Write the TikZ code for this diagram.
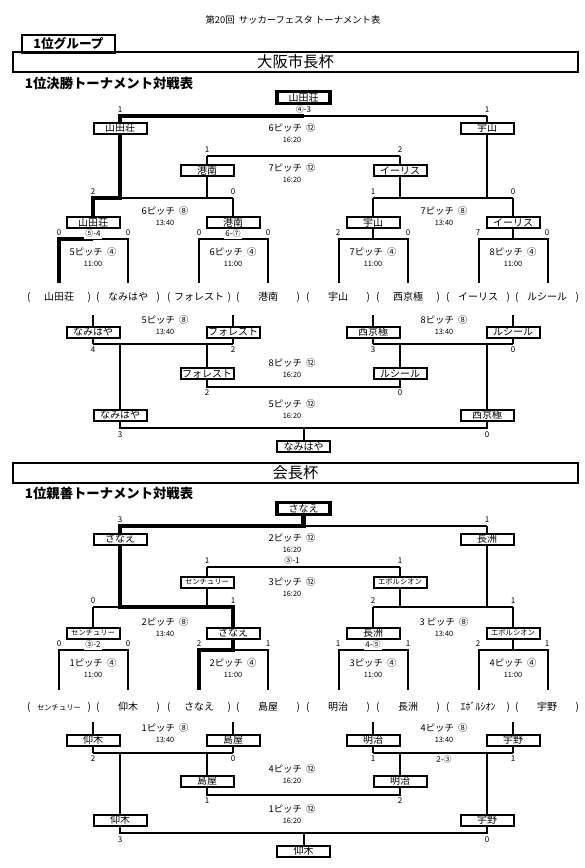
\documentclass[tikz,border=0pt]{standalone}
\usepackage{fontspec}
\setmainfont{Noto Sans CJK JP}
\usepackage{tikz}
\newcommand{\smtxt}[1]{{\fontsize{5.5}{6}\selectfont #1}}

\begin{document}
\begin{tikzpicture}[
    x=0.75pt, y=-0.75pt,
    every node/.style={inner sep=0pt, outer sep=0pt},
    team/.style={draw, fill=white, line width=1.5pt, minimum width=39.75pt, minimum height=8.25pt, font=\fontsize{7.5}{8}\selectfont},
    champ/.style={team, line width=2.4pt, minimum height=8.6pt},
    row/.style={font=\fontsize{7.5}{8}\selectfont},
    ln/.style={line width=1.5pt},
    win/.style={line width=3.2pt},
    sc/.style={font=\fontsize{6}{6}\selectfont},
    pk/.style={sc, fill=white, minimum height=7.5pt, inner xsep=1pt},
    pitch/.style={font=\fontsize{7}{7}\selectfont},
    tm/.style={font=\fontsize{5.5}{6}\selectfont},
    ttl/.style={font=\fontsize{7}{8}\selectfont},
    grp/.style={draw, line width=1.5pt, minimum width=69.75pt, minimum height=13.5pt, font=\bfseries\fontsize{9.5}{10}\selectfont},
    cup/.style={draw, line width=1.5pt, minimum width=423.75pt, minimum height=15pt, font=\fontsize{11.5}{12}\selectfont},
    head/.style={anchor=west, font=\bfseries\fontsize{10}{11}\selectfont},
  ]
  \useasboundingbox (0,0) rectangle (585,868);

  \node[ttl] (ttl) at (293,20) {第20回\ \ サッカーフェスタ\ トーナメント表};
  \node[grp] (grp) at (68.5,44) {1位グループ};

  % ---- 大阪市長杯 ----
  \node[cup] (cupA) at (295.5,62) {大阪市長杯};
  \node[head] (headA) at (25,83) {1位決勝トーナメント対戦表};

  \node[champ] (aW) at (303.5,97.5) {山田荘};
  \node[team] (aS1) at (120,128) {山田荘};
  \node[team] (aS2) at (487,128) {宇山};
  \node[team] (aT1) at (207,170.5) {港南};
  \node[team] (aT2) at (400,170.5) {イーリス};
  \foreach \k/\x/\nm in {1/93/山田荘, 2/233/港南, 3/373/宇山, 4/513/イーリス}
    \node[team] (aQ\k) at (\x,222.5) {\nm};
  \foreach \k/\x/\nm in {1/59/山田荘, 2/128/なみはや, 3/199/フォレスト, 4/268/港南, 5/338/宇山, 6/408/西京極, 7/478/イーリス, 8/547/ルシール}
    \node[row] (aE\k) at (\x,297) {\makebox[48pt][s]{(\hfill\nm\hfill)}};
  \foreach \k/\x/\nm in {1/93/なみはや, 2/233/フォレスト, 3/373/西京極, 4/513/ルシール}
    \node[team] (aL\k) at (\x,332) {\nm};
  \node[team] (aM1) at (207,373.5) {フォレスト};
  \node[team] (aM2) at (400,373.5) {ルシール};
  \node[team] (aN1) at (120,415) {なみはや};
  \node[team] (aN2) at (487,415) {西京極};
  \node[team] (aR) at (303.5,446.5) {なみはや};

  \coordinate (aFl) at (120,116);
  \coordinate (aFr) at (487,116);
  \coordinate (aTl) at (207,156);
  \coordinate (aTr) at (400,156);
  \foreach \k/\x in {1/93, 2/233, 3/373, 4/513} {
    \coordinate (aP\k) at (\x,198);
    \coordinate (aQL\k) at (\x-34,239);
    \coordinate (aQR\k) at (\x+35,239);
    \coordinate (aK\k) at (\x,344);
  }
  \coordinate (aMl) at (207,387);
  \coordinate (aMr) at (400,387);
  \coordinate (aNl) at (120,428);
  \coordinate (aNr) at (487,428);

  \draw[ln] (aFl) -- (aFr);
  \draw[ln] (aFl) -- (aS1) -- (aS1 |- aP1);
  \draw[ln] (aFr) -- (aS2) -- (aS2 |- aP4);
  \draw[ln] (aTl) -- (aTr);
  \draw[ln] (aTl) -- (aT1) -- (aT1 |- aP1);
  \draw[ln] (aTr) -- (aT2) -- (aT2 |- aP4);
  \draw[ln] (aP1) -- (aP2);
  \draw[ln] (aP3) -- (aP4);
  \foreach \k in {1,...,4} {
    \draw[ln] (aP\k) -- (aQ\k) -- (aQ\k |- aQL\k);
    \draw[ln] (aQL\k) ++(0,44) -- (aQL\k) -- (aQR\k) -- ++(0,44);
    \draw[ln] (aL\k) -- ++(0,-17);
    \draw[ln] (aL\k) -- (aK\k);
  }
  \draw[ln] (aK1) -- (aK2);
  \draw[ln] (aK3) -- (aK4);
  \draw[ln] (aM1 |- aK1) -- (aM1) -- (aMl) -- (aMr) -- (aM2) -- (aM2 |- aK3);
  \draw[ln] (aN1 |- aK1) -- (aN1) -- (aNl) -- (aNr) -- (aN2) -- (aN2 |- aK3);
  \draw[ln] (aR |- aNl) -- (aR);

  \draw[win] (aW |- aFl) -- (aFl) -- (aS1);
  \draw[win] (aS1) -- (aS1 |- aP1) -- (aP1) -- (aQ1);
  \draw[win] (aQ1 |- aQL1) -- (aQL1) -- ++(0,44);

  \foreach \x/\y/\s [count=\k] in {120/110/1, 487/110/1, 207/150/1, 400/150/2, 93/192/2, 233/192/0, 373/192/1, 513/192/0,
      59/233/0, 128/233/0, 199/233/0, 268/233/0, 338/233/2, 408/233/0, 478/233/7, 547/233/0,
      93/350/4, 233/350/2, 373/350/3, 513/350/0, 207/393/2, 400/393/0, 120/435/3, 487/435/0}
    \node[sc] (aC\k) at (\x,\y) {\s};
  \node[sc] (aX1) at (303.5,109) {④-3};
  \node[pk] (aX2) at (93,233.5) {⑤-4};
  \node[pk] (aX3) at (233,233.5) {6-⑦};
  \foreach \x/\y/\pn/\cn/\hr [count=\k] in {292/128/6/⑫/16:20, 292/168/7/⑫/16:20, 165/211/6/⑧/13:40, 444/211/7/⑧/13:40,
      93/252/5/④/11:00, 233/252/6/④/11:00, 373/252/7/④/11:00, 513/252/8/④/11:00,
      165/320/5/⑧/13:40, 444/320/8/⑧/13:40, 292/363/8/⑫/16:20, 292/404/5/⑫/16:20} {
    \node[pitch] (aG\k) at (\x,\y) {\pn ピッチ\ \ \cn};
    \node[tm] (aH\k) at (\x,\y+11.5) {\hr};
  }

  % ---- 会長杯 ----
  \node[cup] (cupB) at (295.5,473) {会長杯};
  \node[head] (headB) at (25,493) {1位親善トーナメント対戦表};

  \node[champ] (bW) at (303.5,508.5) {さなえ};
  \node[team] (bS1) at (120,539) {さなえ};
  \node[team] (bS2) at (487,539) {長洲};
  \node[team] (bT1) at (207,582) {\smtxt{センチュリー}};
  \node[team] (bT2) at (400,582) {\smtxt{エボルシオン}};
  \foreach \k/\x/\nm in {1/93/\smtxt{センチュリー}, 2/233/さなえ, 3/373/長洲, 4/513/\smtxt{エボルシオン}}
    \node[team] (bQ\k) at (\x,633) {\nm};
  \foreach \k/\x/\nm in {1/59/\smtxt{センチュリー}, 2/128/仰木, 3/199/さなえ, 4/268/島屋, 5/338/明治, 6/408/長洲, 7/478/ｴﾎﾞﾙｼｵﾝ, 8/547/宇野}
    \node[row] (bE\k) at (\x,707) {\makebox[48pt][s]{(\hfill\nm\hfill)}};
  \foreach \k/\x/\nm in {1/93/仰木, 2/233/島屋, 3/373/明治, 4/513/宇野}
    \node[team] (bL\k) at (\x,740) {\nm};
  \node[team] (bM1) at (207,781) {島屋};
  \node[team] (bM2) at (400,781) {明治};
  \node[team] (bN1) at (120,820) {仰木};
  \node[team] (bN2) at (487,820) {宇野};
  \node[team] (bR) at (303.5,851) {仰木};

  \coordinate (bFl) at (120,526);
  \coordinate (bFr) at (487,526);
  \coordinate (bTl) at (207,567);
  \coordinate (bTr) at (400,567);
  \foreach \k/\x in {1/93, 2/233, 3/373, 4/513} {
    \coordinate (bP\k) at (\x,607);
    \coordinate (bQL\k) at (\x-34,650);
    \coordinate (bQR\k) at (\x+35,650);
    \coordinate (bK\k) at (\x,753);
  }
  \coordinate (bMl) at (207,795);
  \coordinate (bMr) at (400,795);
  \coordinate (bNl) at (120,833);
  \coordinate (bNr) at (487,833);

  \draw[ln] (bFl) -- (bFr);
  \draw[ln] (bFl) -- (bS1) -- (bS1 |- bP1);
  \draw[ln] (bFr) -- (bS2) -- (bS2 |- bP4);
  \draw[ln] (bTl) -- (bTr);
  \draw[ln] (bTl) -- (bT1) -- (bT1 |- bP1);
  \draw[ln] (bTr) -- (bT2) -- (bT2 |- bP4);
  \draw[ln] (bP1) -- (bP2);
  \draw[ln] (bP3) -- (bP4);
  \foreach \k in {1,...,4} {
    \draw[ln] (bP\k) -- (bQ\k) -- (bQ\k |- bQL\k);
    \draw[ln] (bQL\k) ++(0,40) -- (bQL\k) -- (bQR\k) -- ++(0,40);
    \draw[ln] (bL\k) -- ++(0,-18);
    \draw[ln] (bL\k) -- (bK\k);
  }
  \draw[ln] (bK1) -- (bK2);
  \draw[ln] (bK3) -- (bK4);
  \draw[ln] (bM1 |- bK1) -- (bM1) -- (bMl) -- (bMr) -- (bM2) -- (bM2 |- bK3);
  \draw[ln] (bN1 |- bK1) -- (bN1) -- (bNl) -- (bNr) -- (bN2) -- (bN2 |- bK3);
  \draw[ln] (bR |- bNl) -- (bR);

  \draw[win] (bW) -- (bW |- bFl) -- (bFl) -- (bS1);
  \draw[win] (bS1) -- (bS1 |- bP1) -- (bP2) -- (bQ2);
  \draw[win] (bQ2) -- (bQ2 |- bQL2) -- (bQL2) -- ++(0,40);

  \foreach \x/\y/\s [count=\k] in {120/520/3, 487/520/1, 207/561/1, 400/561/1, 93/601/0, 233/601/1, 373/601/2, 513/601/1,
      59/644/0, 128/644/0, 199/644/2, 268/644/1, 338/644/1, 408/644/1, 478/644/2, 547/644/1,
      93/759/2, 233/759/0, 373/759/1, 513/759/1, 207/801/1, 400/801/2, 120/840/3, 487/840/0}
    \node[sc] (bC\k) at (\x,\y) {\s};
  \node[sc] (bX1) at (292,560) {③-1};
  \node[pk] (bX2) at (93,644.5) {③-2};
  \node[pk] (bX3) at (373,644.5) {4-⑤};
  \node[sc] (bX4) at (444,759) {2-③};
  \foreach \x/\y/\pn/\cn/\hr [count=\k] in {292/538/2/⑫/16:20, 292/582/3/⑫/16:20, 165/622/2/⑧/13:40, 444/622/{3\ }/⑧/13:40,
      93/663/1/④/11:00, 233/663/2/④/11:00, 373/663/3/④/11:00, 513/663/4/④/11:00,
      165/728/1/⑧/13:40, 444/728/4/⑧/13:40, 292/769/4/⑫/16:20, 292/809/1/⑫/16:20} {
    \node[pitch] (bG\k) at (\x,\y) {\pn ピッチ\ \ \cn};
    \node[tm] (bH\k) at (\x,\y+11.5) {\hr};
  }
\end{tikzpicture}
\end{document}
